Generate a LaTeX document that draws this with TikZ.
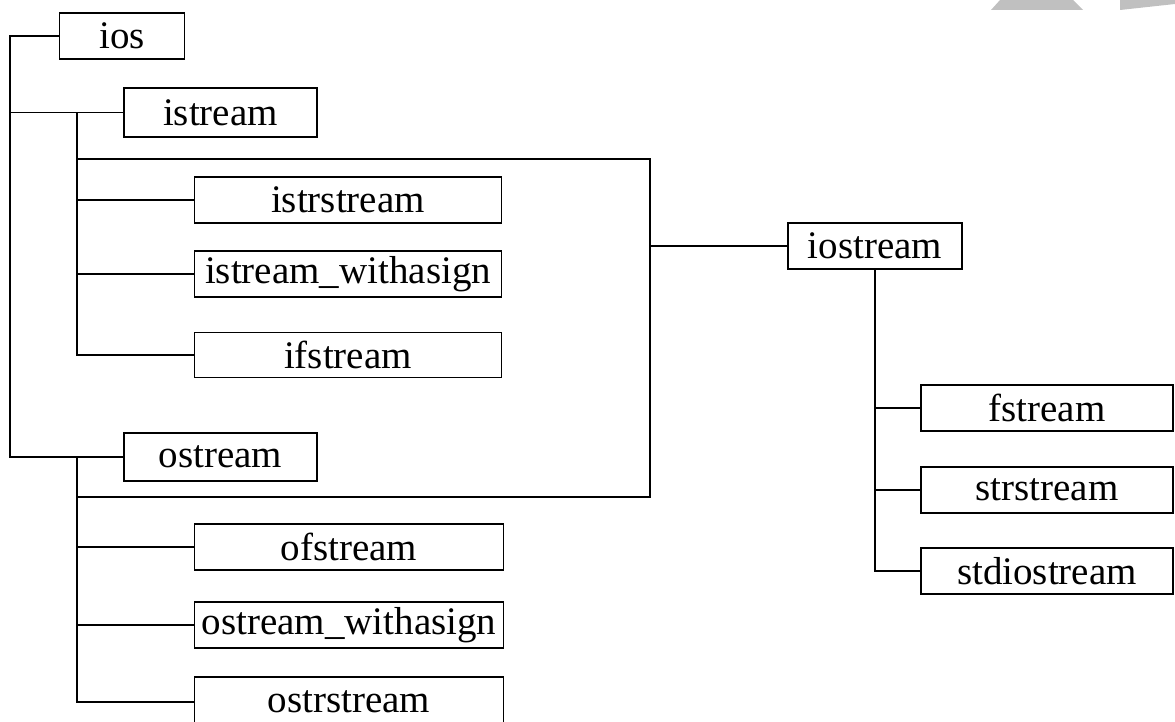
\documentclass[tikz,border=0pt]{standalone}
\usepackage{fontspec}
\setmainfont{Liberation Serif}
\definecolor{marca}{RGB}{192,192,192}
\tikzset{
  clase/.style={draw,line width=1.3pt,inner sep=0pt,minimum height=46pt,font=\fontsize{39}{42}\selectfont},
  rama/.style={line width=1.5pt}
}
\begin{document}
\begin{tikzpicture}[x=1pt,y=-1pt]
\useasboundingbox (0,0) rectangle (1175,722);
    %Marca de agua
    \fill[marca] (1000,0) -- (1073,0) -- (1083,10) -- (991,10) -- cycle;
    \fill[marca] (1120,0) -- (1175,0) -- (1175,4) -- (1120,10) -- cycle;

    %Clases
    \node[clase,minimum width=125pt] (ios) at (122,36) {ios};
    \node[clase,minimum width=193pt,minimum height=49pt] (istream) at (220.5,112.5) {istream};
    \node[clase,minimum width=193pt,minimum height=48pt] (ostream) at (220.5,457) {ostream};
    \node[clase,minimum width=307pt] (istrstream) at (348,200) {istrstream};
    \node[clase,minimum width=307pt] (istreamw) at (348,274) {istream\_withasign};
    \node[clase,minimum width=307pt,minimum height=45pt] (ifstream) at (348,355) {ifstream};
    \node[clase,minimum width=309pt] (ofstream) at (349,547) {ofstream};
    \node[clase,minimum width=309pt] (ostreamw) at (349,625) {ostream\_withasign};
    \node[clase,minimum width=309pt,minimum height=50pt] (ostrstream) at (349,702) {ostrstream};
    \node[clase,minimum width=174pt] (iostream) at (875,246) {iostream};
    \node[clase,minimum width=252pt] (fstream) at (1047,408) {fstream};
    \node[clase,minimum width=252pt] (strstream) at (1047,490) {strstream};
    \node[clase,minimum width=252pt] (stdiostream) at (1047,571) {stdiostream};

    %Troncos
    \coordinate (raiz) at (10,36);
    \coordinate (ibar) at (77,112.5);
    \coordinate (obar) at (77,457);
    \coordinate (iunion) at (77,159);
    \coordinate (ounion) at (77,497);
    \coordinate (msup) at (650,159);
    \coordinate (minf) at (650,497);

    \draw[rama] (ios.west) -- (raiz) |- (ostream.west);
    \draw[rama] (raiz |- istream.west) -- (istream.west);

    \draw[rama] (ibar) |- (ifstream.west);
    \foreach \n in {istrstream,istreamw}{
        \draw[rama] (ibar |- \n.west) -- (\n.west);
    }
    \draw[rama] (obar) |- (ostrstream.west);
    \foreach \n in {ofstream,ostreamw}{
        \draw[rama] (obar |- \n.west) -- (\n.west);
    }

    %Herencia multiple
    \draw[rama] (iunion) -- (msup) -- (minf) -- (ounion);
    \draw[rama] (msup |- iostream.west) -- (iostream.west);

    \draw[rama] (iostream.south) |- (stdiostream.west);
    \foreach \n in {fstream,strstream}{
        \draw[rama] (iostream.south |- \n.west) -- (\n.west);
    }
\end{tikzpicture}
\end{document}
